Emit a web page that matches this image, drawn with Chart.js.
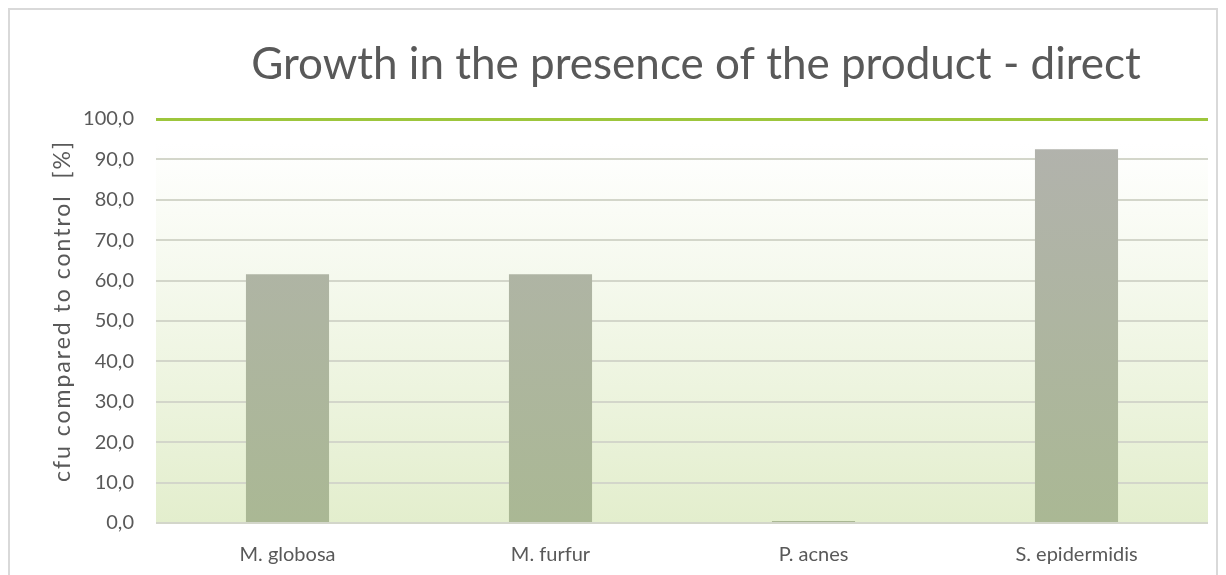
<!DOCTYPE html>
<html>
<head>
<meta charset="utf-8">
<script src="https://cdn.jsdelivr.net/npm/chart.js@4.4.1/dist/chart.umd.min.js"></script>
<style>
html,body{margin:0;padding:0;background:#fff;}
#wrap{width:1226px;height:575px;position:relative;}
</style>
</head>
<body>
<div id="wrap"><canvas id="growthChart" width="1226" height="575"></canvas></div>
<script>
/* ==========================================
   DATA
========================================== */

const categories = ["M. globosa", "M. furfur", "P. acnes", "S. epidermidis"];
const growthValues = [61.6, 61.6, 0.5, 92.5];
const yTicks = [0, 10, 20, 30, 40, 50, 60, 70, 80, 90, 100];
const chartTitle = "Growth in the presence of the product - direct";
const yTitle = "cfu compared to control  [%]";

const FONT = "Lato, 'Open Sans', sans-serif";
const TEXT = "#595959";

/* ==========================================
   BACKDROP: border, plot gradient, titles
========================================== */

const backdrop = {
  id: "backdrop",
  beforeDraw(chart){
    const {ctx, chartArea:a} = chart;
    ctx.save();
    ctx.strokeStyle = "#d9d9d9";
    ctx.lineWidth = 2;
    ctx.strokeRect(9, 9, 1208, 600);

    const g = ctx.createLinearGradient(0, a.top, 0, a.bottom);
    g.addColorStop(0, "#ffffff");
    g.addColorStop(0.06, "#ffffff");
    g.addColorStop(1, "#e3eecd");
    ctx.fillStyle = g;
    ctx.fillRect(a.left, a.top, a.right - a.left, a.bottom - a.top);

    ctx.fillStyle = TEXT;
    ctx.font = "44px " + FONT;
    ctx.textAlign = "center";
    ctx.textBaseline = "middle";
    ctx.fillText(chartTitle, 696, 65);

    // axis title, drawn here so the letter spacing can be widened
    ctx.translate(63, (a.top + a.bottom) / 2 - 10);
    ctx.rotate(-Math.PI / 2);
    ctx.font = "23px " + FONT;
    ctx.letterSpacing = "2px";
    ctx.fillText(yTitle, 0, 0);
    ctx.restore();
  }
};

/* ==========================================
   CHART
========================================== */

const canvas = document.getElementById("growthChart");

new Chart(canvas, {
  type: "bar",
  data: {
    labels: categories,
    datasets: [{
      data: growthValues,
      backgroundColor(c){
        const a = c.chart.chartArea;
        if(!a) return "#abb597";
        const g = c.chart.ctx.createLinearGradient(0, a.top, 0, a.bottom);
        g.addColorStop(0, "#b2b2ae");
        g.addColorStop(1, "#aab894");
        return g;
      },
      borderWidth: 0,
      barPercentage: 1,
      categoryPercentage: 0.316
    }]
  },
  options: {
    responsive: false,
    animation: false,
    devicePixelRatio: 1,
    layout: { padding: { left: 10, right: 18, top: 119, bottom: 0 } },
    plugins: {
      legend: { display: false },
      title: { display: false },
      tooltip: { enabled: false }
    },
    scales: {
      x: {
        afterFit(s){ s.height = 52; },
        grid: { display: false, drawTicks: false },
        border: { display: false },
        ticks: { color: TEXT, font: { family: FONT, size: 20 }, padding: 20 }
      },
      y: {
        min: 0,
        max: 100,
        afterFit(s){ s.width = 146; },
        afterBuildTicks(s){ s.ticks = yTicks.map(v => ({value: v})); },
        grid: {
          drawTicks: false,
          color(c){ return c.tick && c.tick.value === 100 ? "#9dc63c" : "#d3d6ca"; },
          lineWidth(c){ return c.tick && c.tick.value === 100 ? 3 : 2; }
        },
        border: { display: false },
        ticks: {
          color: TEXT,
          font: { family: FONT, size: 20 },
          padding: 22,
          callback: v => v.toFixed(1).replace(".", ",")
        }
      }
    }
  },
  plugins: [backdrop]
});
</script>
</body>
</html>
